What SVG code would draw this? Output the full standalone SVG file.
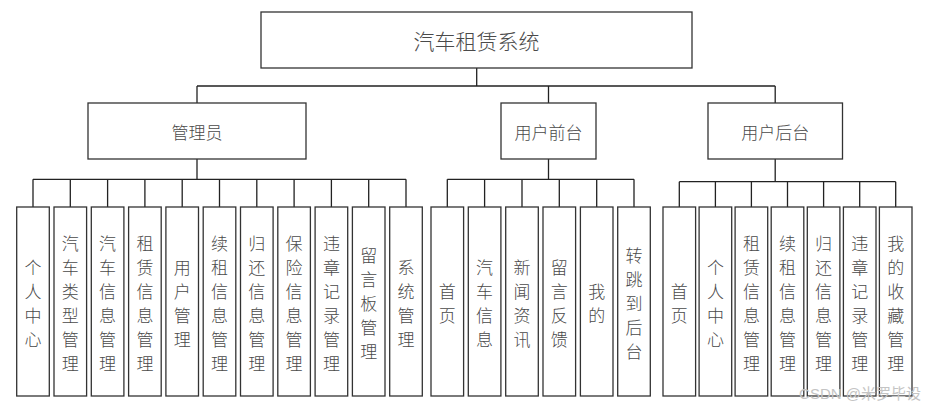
<svg xmlns="http://www.w3.org/2000/svg" width="927" height="408" viewBox="0 0 927 408">
<style>
.box{fill:#fff;stroke:#333;stroke-width:1.3}
.ln{fill:none;stroke:#222;stroke-width:1.3}
text{font-family:"Noto Sans CJK SC","Liberation Sans",sans-serif;font-weight:300;fill:#4a4a4a;text-anchor:middle;dominant-baseline:central}
.t1{font-size:21px}
.t2{font-size:17px}
.t3{font-size:17px}
.wm{font-family:"Liberation Sans","Noto Sans CJK SC",sans-serif;font-weight:400;font-size:15px;fill:#c4c4c4;text-anchor:end}
</style>
<rect width="927" height="408" fill="#fff"/>
<g id="connectors">
<path class="ln" d="M476.7 68V86M197 86H775.2M197 86V103M548.5 86V103M775.2 86V103"/>
<path class="ln" d="M197 159V179.3M33 179.3H406M33 179.3V207M70.3 179.3V207M107.6 179.3V207M144.9 179.3V207M182.2 179.3V207M219.5 179.3V207M256.8 179.3V207M294.1 179.3V207M331.4 179.3V207M368.7 179.3V207M406 179.3V207"/>
<path class="ln" d="M548.5 159V179.3M447.3 179.3H634M447.3 179.3V207M484.6 179.3V207M522 179.3V207M559.3 179.3V207M596.7 179.3V207M634 179.3V207"/>
<path class="ln" d="M775.2 159V181.7M679.3 181.7H895.7M679.3 181.7V207M715.4 181.7V207M751.4 181.7V207M787.5 181.7V207M823.6 181.7V207M859.7 181.7V207M895.7 181.7V207"/>
</g>
<g id="root"><rect class="box" x="261" y="12" width="431" height="56"/><text class="t1" x="476.5" y="40">汽车租赁系统</text></g>
<g id="admin"><rect class="box" x="88" y="103" width="218" height="56"/><text class="t2" x="197" y="131">管理员</text></g>
<g id="front"><rect class="box" x="501" y="103" width="95" height="56"/><text class="t2" x="548.5" y="131">用户前台</text></g>
<g id="back"><rect class="box" x="708" y="103" width="134.5" height="56"/><text class="t2" x="775.2" y="131">用户后台</text></g>

<g id="a1"><rect class="box" x="16.7" y="207" width="32.6" height="189"/><text class="t3"><tspan x="33" y="265.5">个</tspan><tspan x="33" y="289.5">人</tspan><tspan x="33" y="313.5">中</tspan><tspan x="33" y="337.5">心</tspan></text></g>
<g id="a2"><rect class="box" x="54" y="207" width="32.6" height="189"/><text class="t3"><tspan x="70.3" y="241.5">汽</tspan><tspan x="70.3" y="265.5">车</tspan><tspan x="70.3" y="289.5">类</tspan><tspan x="70.3" y="313.5">型</tspan><tspan x="70.3" y="337.5">管</tspan><tspan x="70.3" y="361.5">理</tspan></text></g>
<g id="a3"><rect class="box" x="91.3" y="207" width="32.6" height="189"/><text class="t3"><tspan x="107.6" y="241.5">汽</tspan><tspan x="107.6" y="265.5">车</tspan><tspan x="107.6" y="289.5">信</tspan><tspan x="107.6" y="313.5">息</tspan><tspan x="107.6" y="337.5">管</tspan><tspan x="107.6" y="361.5">理</tspan></text></g>
<g id="a4"><rect class="box" x="128.6" y="207" width="32.6" height="189"/><text class="t3"><tspan x="144.9" y="241.5">租</tspan><tspan x="144.9" y="265.5">赁</tspan><tspan x="144.9" y="289.5">信</tspan><tspan x="144.9" y="313.5">息</tspan><tspan x="144.9" y="337.5">管</tspan><tspan x="144.9" y="361.5">理</tspan></text></g>
<g id="a5"><rect class="box" x="165.9" y="207" width="32.6" height="189"/><text class="t3"><tspan x="182.2" y="265.5">用</tspan><tspan x="182.2" y="289.5">户</tspan><tspan x="182.2" y="313.5">管</tspan><tspan x="182.2" y="337.5">理</tspan></text></g>
<g id="a6"><rect class="box" x="203.2" y="207" width="32.6" height="189"/><text class="t3"><tspan x="219.5" y="241.5">续</tspan><tspan x="219.5" y="265.5">租</tspan><tspan x="219.5" y="289.5">信</tspan><tspan x="219.5" y="313.5">息</tspan><tspan x="219.5" y="337.5">管</tspan><tspan x="219.5" y="361.5">理</tspan></text></g>
<g id="a7"><rect class="box" x="240.5" y="207" width="32.6" height="189"/><text class="t3"><tspan x="256.8" y="241.5">归</tspan><tspan x="256.8" y="265.5">还</tspan><tspan x="256.8" y="289.5">信</tspan><tspan x="256.8" y="313.5">息</tspan><tspan x="256.8" y="337.5">管</tspan><tspan x="256.8" y="361.5">理</tspan></text></g>
<g id="a8"><rect class="box" x="277.8" y="207" width="32.6" height="189"/><text class="t3"><tspan x="294.1" y="241.5">保</tspan><tspan x="294.1" y="265.5">险</tspan><tspan x="294.1" y="289.5">信</tspan><tspan x="294.1" y="313.5">息</tspan><tspan x="294.1" y="337.5">管</tspan><tspan x="294.1" y="361.5">理</tspan></text></g>
<g id="a9"><rect class="box" x="315.1" y="207" width="32.6" height="189"/><text class="t3"><tspan x="331.4" y="241.5">违</tspan><tspan x="331.4" y="265.5">章</tspan><tspan x="331.4" y="289.5">记</tspan><tspan x="331.4" y="313.5">录</tspan><tspan x="331.4" y="337.5">管</tspan><tspan x="331.4" y="361.5">理</tspan></text></g>
<g id="a10"><rect class="box" x="352.4" y="207" width="32.6" height="189"/><text class="t3"><tspan x="368.7" y="253.5">留</tspan><tspan x="368.7" y="277.5">言</tspan><tspan x="368.7" y="301.5">板</tspan><tspan x="368.7" y="325.5">管</tspan><tspan x="368.7" y="349.5">理</tspan></text></g>
<g id="a11"><rect class="box" x="389.7" y="207" width="32.6" height="189"/><text class="t3"><tspan x="406" y="265.5">系</tspan><tspan x="406" y="289.5">统</tspan><tspan x="406" y="313.5">管</tspan><tspan x="406" y="337.5">理</tspan></text></g>

<g id="f1"><rect class="box" x="431" y="207" width="32.6" height="189"/><text class="t3"><tspan x="447.3" y="289.5">首</tspan><tspan x="447.3" y="313.5">页</tspan></text></g>
<g id="f2"><rect class="box" x="468.3" y="207" width="32.6" height="189"/><text class="t3"><tspan x="484.6" y="265.5">汽</tspan><tspan x="484.6" y="289.5">车</tspan><tspan x="484.6" y="313.5">信</tspan><tspan x="484.6" y="337.5">息</tspan></text></g>
<g id="f3"><rect class="box" x="505.7" y="207" width="32.6" height="189"/><text class="t3"><tspan x="522" y="265.5">新</tspan><tspan x="522" y="289.5">闻</tspan><tspan x="522" y="313.5">资</tspan><tspan x="522" y="337.5">讯</tspan></text></g>
<g id="f4"><rect class="box" x="543" y="207" width="32.6" height="189"/><text class="t3"><tspan x="559.3" y="265.5">留</tspan><tspan x="559.3" y="289.5">言</tspan><tspan x="559.3" y="313.5">反</tspan><tspan x="559.3" y="337.5">馈</tspan></text></g>
<g id="f5"><rect class="box" x="580.4" y="207" width="32.6" height="189"/><text class="t3"><tspan x="596.7" y="289.5">我</tspan><tspan x="596.7" y="313.5">的</tspan></text></g>
<g id="f6"><rect class="box" x="617.7" y="207" width="32.6" height="189"/><text class="t3"><tspan x="634" y="253.5">转</tspan><tspan x="634" y="277.5">跳</tspan><tspan x="634" y="301.5">到</tspan><tspan x="634" y="325.5">后</tspan><tspan x="634" y="349.5">台</tspan></text></g>

<g id="b1"><rect class="box" x="663" y="207" width="32.6" height="189"/><text class="t3"><tspan x="679.3" y="289.5">首</tspan><tspan x="679.3" y="313.5">页</tspan></text></g>
<g id="b2"><rect class="box" x="699.1" y="207" width="32.6" height="189"/><text class="t3"><tspan x="715.4" y="265.5">个</tspan><tspan x="715.4" y="289.5">人</tspan><tspan x="715.4" y="313.5">中</tspan><tspan x="715.4" y="337.5">心</tspan></text></g>
<g id="b3"><rect class="box" x="735.1" y="207" width="32.6" height="189"/><text class="t3"><tspan x="751.4" y="241.5">租</tspan><tspan x="751.4" y="265.5">赁</tspan><tspan x="751.4" y="289.5">信</tspan><tspan x="751.4" y="313.5">息</tspan><tspan x="751.4" y="337.5">管</tspan><tspan x="751.4" y="361.5">理</tspan></text></g>
<g id="b4"><rect class="box" x="771.2" y="207" width="32.6" height="189"/><text class="t3"><tspan x="787.5" y="241.5">续</tspan><tspan x="787.5" y="265.5">租</tspan><tspan x="787.5" y="289.5">信</tspan><tspan x="787.5" y="313.5">息</tspan><tspan x="787.5" y="337.5">管</tspan><tspan x="787.5" y="361.5">理</tspan></text></g>
<g id="b5"><rect class="box" x="807.3" y="207" width="32.6" height="189"/><text class="t3"><tspan x="823.6" y="241.5">归</tspan><tspan x="823.6" y="265.5">还</tspan><tspan x="823.6" y="289.5">信</tspan><tspan x="823.6" y="313.5">息</tspan><tspan x="823.6" y="337.5">管</tspan><tspan x="823.6" y="361.5">理</tspan></text></g>
<g id="b6"><rect class="box" x="843.4" y="207" width="32.6" height="189"/><text class="t3"><tspan x="859.7" y="241.5">违</tspan><tspan x="859.7" y="265.5">章</tspan><tspan x="859.7" y="289.5">记</tspan><tspan x="859.7" y="313.5">录</tspan><tspan x="859.7" y="337.5">管</tspan><tspan x="859.7" y="361.5">理</tspan></text></g>
<g id="b7"><rect class="box" x="879.4" y="207" width="32.6" height="189"/><text class="t3"><tspan x="895.7" y="241.5">我</tspan><tspan x="895.7" y="265.5">的</tspan><tspan x="895.7" y="289.5">收</tspan><tspan x="895.7" y="313.5">藏</tspan><tspan x="895.7" y="337.5">管</tspan><tspan x="895.7" y="361.5">理</tspan></text></g>

<text class="wm" x="921" y="393">CSDN @米罗毕设</text>
</svg>
